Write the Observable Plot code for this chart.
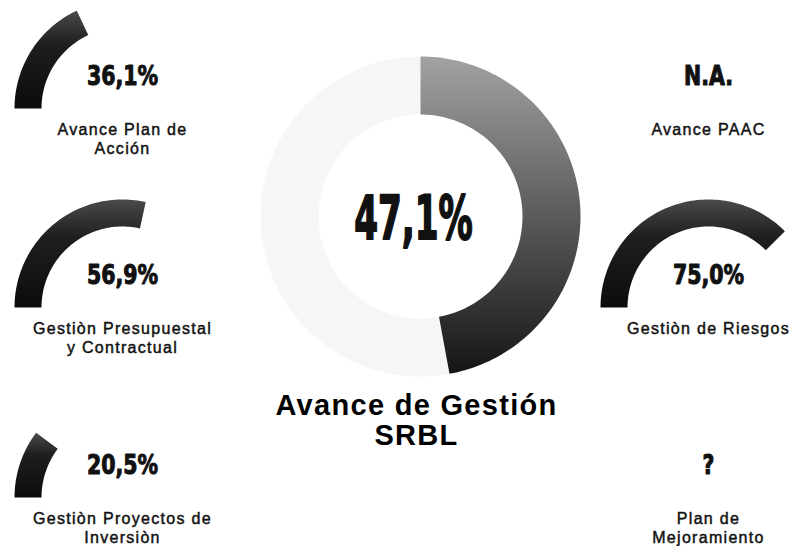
<!DOCTYPE html>
<html>
<head>
<meta charset="utf-8">
<script src="https://cdn.jsdelivr.net/npm/d3@7"></script>
<script src="https://cdn.jsdelivr.net/npm/@observablehq/plot@0.6"></script>
<style>
  html, body { margin: 0; padding: 0; background: #fff; }
  #chart { width: 795px; height: 546px; }
</style>
</head>
<body>
<div id="chart"></div>
<script>
// ---------- data ----------
const indicators = [
  "Avance Plan de\nAcción",
  "Gestiòn Presupuestal\ny Contractual",
  "Gestiòn Proyectos de\nInversiòn",
  "Avance PAAC",
  "Gestiòn de Riesgos",
  "Plan de\nMejoramiento"
];
const values = [0.361, 0.569, 0.205, null, 0.750, null];
const valueLabels = ["36,1%", "56,9%", "20,5%", "N.A.", "75,0%", "?"];
const totalName = "Avance de Gestión\nSRBL";
const totalValue = 0.471;
const totalLabel = "47,1%";

// ---------- layout ----------
const W = 795, H = 546;
const cols = [122, 708];
const rows = [108, 307, 497];
const panelCol = [0, 0, 0, 1, 1, 1];
const panelRow = [0, 1, 2, 0, 1, 2];
const gauge = {r0: 81, r1: 108};
const donut = {cx: 420, cy: 216, r0: 102, r1: 160};

function arcPolygon(id, cx, cy, r0, r1, a0, a1) {
  const n = Math.max(2, Math.ceil(Math.abs(a1 - a0) / (Math.PI / 120)));
  const pts = [];
  for (let i = 0; i <= n; i++) {
    const a = a0 + (a1 - a0) * i / n;
    pts.push({id, x: cx + r1 * Math.sin(a), y: cy - r1 * Math.cos(a)});
  }
  for (let i = n; i >= 0; i--) {
    const a = a0 + (a1 - a0) * i / n;
    pts.push({id, x: cx + r0 * Math.sin(a), y: cy - r0 * Math.cos(a)});
  }
  return pts;
}

const panels = indicators.map((name, i) => ({
  name, value: values[i], label: valueLabels[i],
  cx: cols[panelCol[i]], cy: rows[panelRow[i]]
}));

const gaugePts = panels.filter(p => p.value != null).flatMap(p =>
  arcPolygon(p.name, p.cx, p.cy, gauge.r0, gauge.r1, -Math.PI / 2, -Math.PI / 2 + Math.PI * p.value));
const donutFill = arcPolygon("done", donut.cx, donut.cy, donut.r0, donut.r1, 0, 2 * Math.PI * totalValue);
const donutRest = arcPolygon("rest", donut.cx, donut.cy, donut.r0, donut.r1, 2 * Math.PI * totalValue, 2 * Math.PI);

const svg = Plot.plot({
  width: W, height: H, margin: 0,
  x: {domain: [0, W], range: [0, W], axis: null},
  y: {domain: [0, H], range: [0, H], axis: null},
  style: {fontFamily: "'Liberation Sans', Arial, sans-serif", background: "#fff"},
  marks: [
    Plot.line(donutRest, {x: "x", y: "y", z: "id", fill: "#f6f6f6", stroke: "none", curve: "linear"}),
    Plot.line(donutFill, {x: "x", y: "y", z: "id", fill: "url(#gradBig)", stroke: "none", curve: "linear"}),
    Plot.line(gaugePts, {x: "x", y: "y", z: "id", fill: "url(#gradSmall)", stroke: "none", curve: "linear"}),
    // 0: values
    Plot.text(panels, {x: "cx", y: d => d.cy - 32, text: "label", fontSize: 27,
      fontFamily: "'DejaVu Sans', sans-serif", fontWeight: "bold", fill: "#111",
      stroke: "#111", strokeWidth: 1.1, textAnchor: "middle"}),
    // 1: names
    Plot.text(panels, {x: "cx", y: d => d.cy + 13, text: "name", fontSize: 16, lineAnchor: "top",
      lineHeight: 1.17, fill: "#111", stroke: "#111", strokeWidth: 0.45,
      textAnchor: "middle"}),
    // 2: total value
    Plot.text([totalLabel], {x: donut.cx - 7, y: donut.cy + 3, text: d => d, fontSize: 60,
      fontFamily: "'DejaVu Sans', sans-serif", fontWeight: "bold", fill: "#111",
      stroke: "#111", strokeWidth: 2, textAnchor: "middle"}),
    // 3: title
    Plot.text([totalName], {x: donut.cx - 4, y: 420, text: d => d, fontSize: 29, fontWeight: "bold",
      lineHeight: 1.03, fill: "#000", textAnchor: "middle"})
  ]
});

// gradients
const defs = d3.select(svg).insert("defs", ":first-child");
const gb = defs.append("linearGradient").attr("id", "gradBig").attr("x1", 0).attr("y1", 0).attr("x2", 0).attr("y2", 1);
gb.append("stop").attr("offset", "0%").attr("stop-color", "#a2a2a2");
gb.append("stop").attr("offset", "45%").attr("stop-color", "#626262");
gb.append("stop").attr("offset", "100%").attr("stop-color", "#151515");
const gs = defs.append("linearGradient").attr("id", "gradSmall").attr("x1", 0).attr("y1", 0).attr("x2", 0).attr("y2", 1);
gs.append("stop").attr("offset", "0%").attr("stop-color", "#4a4a4a");
gs.append("stop").attr("offset", "35%").attr("stop-color", "#1e1e1e");
gs.append("stop").attr("offset", "100%").attr("stop-color", "#0c0c0c");

// condensed value type (horizontal squeeze)
function squeeze(group, k) {
  d3.select(group).selectAll("text").each(function() {
    const tr = this.getAttribute("transform");
    if (tr) this.setAttribute("transform", tr + ` scale(${k},1)`);
    else {
      const x = +this.getAttribute("x") || 0, y = +this.getAttribute("y") || 0;
      this.removeAttribute("x"); this.removeAttribute("y");
      this.setAttribute("transform", `translate(${x},${y}) scale(${k},1)`);
    }
  });
}
const textGroups = d3.select(svg).selectAll('g[aria-label="text"]').nodes();
squeeze(textGroups[0], 0.76);
squeeze(textGroups[2], 0.57);
d3.select(textGroups[1]).attr("letter-spacing", "1.3px");
d3.select(textGroups[3]).attr("letter-spacing", "1.3px");

document.getElementById("chart").append(svg);
</script>
</body>
</html>
